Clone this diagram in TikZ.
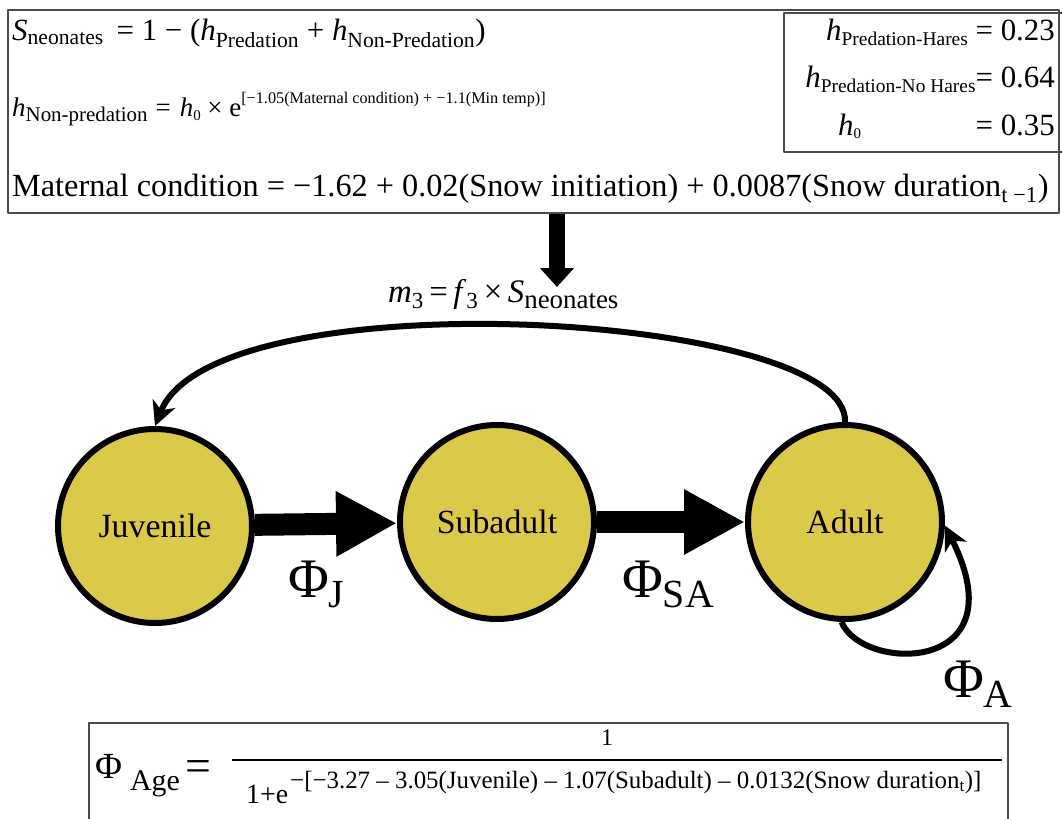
\documentclass[tikz,border=0pt]{standalone}
\usepackage{amsmath}
\usepackage{fontspec}
\setmainfont{Liberation Serif}
\usetikzlibrary{arrows.meta}
\definecolor{stagefill}{RGB}{219,201,74}
\newcommand{\fs}[1]{\fontsize{#1}{#1}\selectfont}
\newcommand{\sbx}[1]{$_{\text{#1}}$}
\newcommand{\upx}[3]{\raisebox{#1}{\fs{#2}#3}}
\newcommand{\dnx}[3]{\raisebox{-#1}{\fs{#2}#3}}

\begin{document}
\begin{tikzpicture}[x=1bp,y=-1bp,line join=bevel,
  stage/.style={circle,draw=black,line width=6bp,fill=stagefill,minimum size=194bp,inner sep=0pt,font=\fs{34}},
  frame/.style={draw=black!70,line width=1.3bp,inner sep=0pt},
  block/.style={line width=22bp,-{Triangle[length=61bp 0 0,width=61bp 0 0]}},
  loopline/.style={line width=6bp,-{Stealth[length=24bp 0 0,width=24bp 0 0,inset=7bp]}},
  txt/.style={anchor=base west,inner sep=0pt},
  rtxt/.style={anchor=base east,inner sep=0pt}]
\useasboundingbox (0,0) rectangle (1062,819);
%% equation boxes
\node (topbox) at (533.5,111.5) [frame,minimum width=1051bp,minimum height=203bp] {};
\node (hbox) at (924,82.5) [frame,minimum width=280bp,minimum height=139bp] {};
\node (botbox) at (548.5,776) [frame,minimum width=919bp,minimum height=106bp] {};
%
\node (survneo) at (12,41) [txt] {\fs{31}\textit{S}\sbx{neonates} \,= 1 − (\textit{h}\sbx{Predation} + \textit{h}\sbx{Non-Predation})};
\node (hazard) at (12,116) [txt] {\fs{27}\textit{h}\dnx{5bp}{21}{Non-predation}\hspace{8bp}=\hspace{9bp}\textit{h}\dnx{4bp}{15}{0} × e\upx{12bp}{16.3}{[−1.05(Maternal condition) + −1.1(Min temp)]}};
\node (matcond) at (12,196) [txt] {\fs{32.4}Maternal condition = −1.62 + 0.02(Snow initiation) + 0.0087(Snow duration\sbx{t −1})};
\node (hpredh) at (1055,41) [rtxt] {\fs{31}\textit{h}\dnx{5bp}{19.5}{Predation-Hares} = 0.23};
\node (hprednh) at (1055,88) [rtxt] {\fs{31}\textit{h}\dnx{5bp}{19.5}{Predation-No Hares}= 0.64};
\node (hzero) at (838,135) [txt] {\fs{31}\textit{h}\dnx{3bp}{15}{0}};
\node (hzeroval) at (1055,135) [rtxt] {\fs{31}= 0.35};
%% fecundity
\coordinate (drop) at (557,287);
\draw [line width=16bp,-{Triangle[length=19bp 0 0,width=33bp 0 0]}] (topbox.south -| drop) -- (drop);
\node (fec) at (388,302) [txt] {\fs{33}\textit{m}\sbx{3}\,=\,\textit{f}\sbx{3}\,×\,\textit{S}{\fs{27}\raisebox{-6bp}{neonates}}};
%% stages
\node (juv) at (155,526) [stage] {Juvenile};
\node (sub) at (497,522) [stage] {Subadult};
\node (adu) at (845,522) [stage] {Adult};
\draw [block] (juv) -- (sub);
\draw [block] (sub) -- (adu);
\draw [loopline] (adu.north) .. controls +(5,-110) and +(60,-150) .. (juv.north);
\draw [loopline] (adu.-92) .. controls +(20,50) and +(75,150) .. (adu.-2);
\node (phij) at (288,597) [txt] {\fs{56}Φ{\fs{40}\raisebox{-10bp}{J}}};
\node (phisa) at (622,597) [txt] {\fs{56}Φ{\fs{40}\raisebox{-10bp}{SA}}};
\node (phia) at (943,697) [txt] {\fs{56}Φ{\fs{40}\raisebox{-10bp}{A}}};
%% survival
\node (phiage) at (95,778) [txt] {\fs{37}Φ\hspace{8bp}{\fs{30}\raisebox{-12bp}{Age}}\hspace{6bp}{\fs{46}\raisebox{-3bp}{=}}};
\draw [line width=1.5bp] (232,760) -- (1002,760);
\node (num) at (601,745) [txt] {\fs{24}1};
\node (den) at (246,803) [txt] {\fs{28}1+e};
\node (expo) at (290,788) [txt] {\fs{25}−[−3.27 – 3.05(Juvenile) – 1.07(Subadult) – 0.0132(Snow duration\sbx{t})]};
\end{tikzpicture}
\end{document}
